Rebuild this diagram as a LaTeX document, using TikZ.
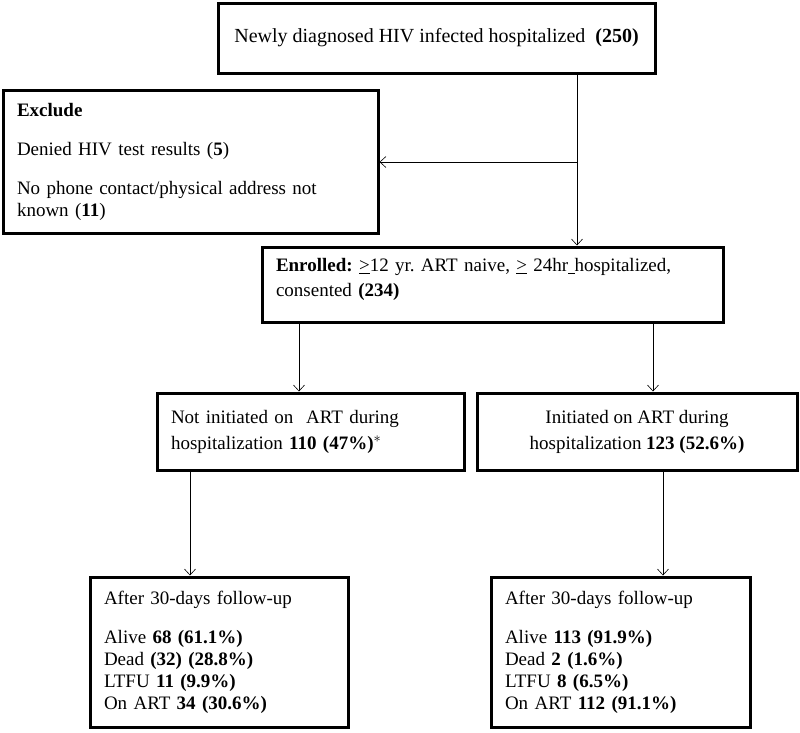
\documentclass[tikz,border=0pt]{standalone}
\usepackage{fontspec}
\setmainfont{Liberation Serif}
\usetikzlibrary{arrows.meta}
\frenchspacing

\tikzset{
  flowbox/.style={draw, line width=3pt, rectangle, inner xsep=14pt, inner ysep=4pt,
    font=\fontsize{19}{22}\selectfont},
  leftbox/.style={flowbox, align=left},
  midbox/.style={flowbox, align=center}
}

\begin{document}
\begin{tikzpicture}[x=1pt,y=-1pt,->,>={Straight Barb[length=6pt,width=11pt]},
    semithick]
    \useasboundingbox (0,0) rectangle (800,732);

    \node[midbox, minimum width=437, minimum height=70, font=\fontsize{20}{23}\selectfont] (top) at (436.5,38)
      {Newly diagnosed HIV infected hospitalized \ \textbf{(250)}};
    \node[leftbox, text width=347, minimum height=143] (excl) at (190.5,161.5)
      {\textbf{Exclude}\\[17pt]
       Denied HIV test results (\textbf{5})\\[17pt]
       No phone contact/physical address not\\
       known (\textbf{11})};
    \node[leftbox, text width=433, minimum height=75] (enr) at (492.5,284.5)
      {\textbf{Enrolled:} \underline{>}12 yr. ART naive, \underline{>} 24hr\underline{\ }hospitalized,\\[3pt]
       consented \textbf{(234)}\\[-8pt]\mbox{}};
    \node[leftbox, text width=279, minimum height=77] (noart) at (310.5,431.5)
      {Not initiated on \ ART during\\[4pt]
       hospitalization \textbf{110 (47\%)}$^{*}$};
    \node[midbox, minimum width=320, minimum height=77] (art) at (637,431.5)
      {Initiated on ART during\\[4pt]
       hospitalization \textbf{123 (52.6\%)}};
    \node[leftbox, text width=230, minimum height=150] (fupno) at (219,652)
      {After 30-days follow-up\\[17pt]
       Alive \textbf{68 (61.1\%)}\\
       Dead \textbf{(32) (28.8\%)}\\
       LTFU \textbf{11 (9.9\%)}\\
       On ART \textbf{34 (30.6\%)}};
    \node[leftbox, text width=231, minimum height=150] (fupart) at (620.5,652)
      {After 30-days follow-up\\[17pt]
       Alive \textbf{113 (91.9\%)}\\
       Dead \textbf{2 (1.6\%)}\\
       LTFU \textbf{8 (6.5\%)}\\
       On ART \textbf{112 (91.1\%)}};

    \coordinate (split) at (577,162);

    \draw[-] (top.south -| split) -- (split);
    \draw (split) -- (enr.north -| split);
    \draw (split) -- (excl.east |- split);
    \draw ([xshift=-11.5pt]noart.north |- enr.south) -- ([xshift=-11.5pt]noart.north);
    \draw ([xshift=16pt]art.north |- enr.south) -- ([xshift=16pt]art.north);
    \draw ([xshift=-29pt]fupno.north |- noart.south) -- ([xshift=-29pt]fupno.north);
    \draw ([xshift=42.5pt]fupart.north |- art.south) -- ([xshift=42.5pt]fupart.north);
\end{tikzpicture}
\end{document}
